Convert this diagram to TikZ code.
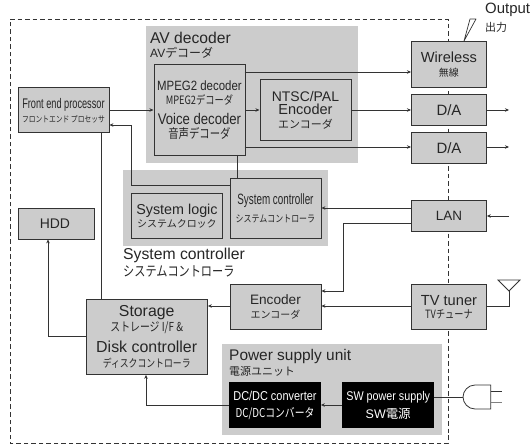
\documentclass[tikz,border=0pt]{standalone}
\usepackage{fontspec}
\usetikzlibrary{arrows.meta}
\setmainfont{Liberation Sans}
\newfontfamily\jp{Noto Sans CJK JP}
\newfontfamily\nrw[FakeStretch=0.85]{Liberation Sans}
\newfontfamily\nrwb[FakeStretch=0.66]{Liberation Sans}
\newfontfamily\jpn[FakeStretch=0.8]{Noto Sans CJK JP}
\newcommand{\sz}[1]{\fontsize{#1}{#1}\selectfont}
\definecolor{panel}{gray}{0.80}
\definecolor{boxfill}{gray}{0.80}
\definecolor{ln}{gray}{0.2}
\tikzset{
 x=1bp,y=-1bp,
 panelbox/.style={fill=panel,draw=none},
 blk/.style={draw=ln,line width=0.9pt,fill=boxfill,inner sep=0pt,text=black!85,align=center},
 blackbox/.style={fill=black,draw=none,inner sep=0pt,text=white,align=center},
 conn/.style={draw=ln,line width=0.8pt},
 arr/.style={conn,-{Stealth[length=4bp,width=3.5bp]}},
 lab/.style={inner sep=0pt,anchor=west,text=black!85,align=left},
}
\newcommand{\bx}[6]{\node[blk,minimum width=#4bp-#2bp,minimum height=#5bp-#3bp,anchor=north west] (#1) at (#2,#3) {#6};}
\begin{document}
\begin{tikzpicture}
\useasboundingbox (0,0) rectangle (531,446);
\fill[white] (0,0) rectangle (531,446);
% frame
\draw[ln,line width=0.8pt,dash pattern=on 4.5bp off 3bp] (448,435) -- (448,443) -- (10,443) -- (10,19) -- (448,19) -- (448,435);
% panels
\fill[panelbox] (146,26) rectangle (358,163);
\fill[panelbox] (123,170) rectangle (328,246);
\fill[panelbox] (222,344) rectangle (442,435);
% boxes
\bx{mpeg}{153.5}{64.5}{244.5}{155}{\nrw\sz{13.5}MPEG2 decoder\\[2pt]\jpn\sz{11.6}MPEG2デコーダ\\[7pt]\nrw\sz{15.5}Voice decoder\\[2pt]\jpn\sz{13}音声デコーダ}
\bx{ntsc}{259.5}{79.5}{350.5}{140}{\sz{14}NTSC/PAL\\[1pt]\sz{14.6}Encoder\\[2pt]\jp\sz{11}エンコーダ}
\bx{fep}{17.5}{87.5}{108.5}{132.5}{\nrwb\sz{14}Front end processor\\[2pt]\jpn\sz{8.5}フロントエンド プロセッサ}
\bx{hdd}{17.5}{208.5}{93.5}{238.5}{\sz{14}HDD\hspace*{2bp}}
\bx{slog}{131}{193}{222}{238}{\sz{14.4}System logic\\[1pt]\jp\sz{10}システムクロック}
\bx{sctl}{229.5}{178}{320.5}{238}{\nrwb\sz{15}System controller\\[6pt]\jpn\sz{10}システムコントローラ}
\bx{wl}{411}{41.5}{486}{87}{\sz{14.7}Wireless\\[2pt]\jp\sz{10}無線}
\bx{da1}{411}{94.5}{486}{125}{\sz{15}D/A}
\bx{da2}{411}{132.5}{486}{163}{\sz{15}D/A}
\bx{lan}{411}{200.5}{486}{231}{\sz{13.5}LAN}
\bx{tv}{411}{284}{486}{329}{\sz{14.7}TV tuner\\[1pt]\jpn\sz{11.5}TVチューナ}
\bx{enc}{229.5}{284}{320.5}{329}{\sz{13.7}Encoder\\[2pt]\jp\sz{10}エンコーダ}
\bx{sto}{85.5}{299}{207}{374}{\sz{15.9}Storage\\[1pt]\jpn\sz{12.4}ストレージ I/F \&\\[6pt]\sz{16}\normalfont Disk controller\\[3pt]\jpn\sz{11.1}ディスクコントローラ}
\node[blackbox,minimum width=91.5bp,minimum height=46bp,anchor=north west] (dc) at (229,382) {\nrw\sz{12.9}DC/DC converter\\[5pt]\jpn\sz{12.3}DC/DCコンバータ};
\node[blackbox,minimum width=92bp,minimum height=46bp,anchor=north west] (sw) at (342,382) {\nrw\sz{12.7}SW power supply\\[4pt]\sz{12.5}\normalfont SW\jp 電源};
% labels
\node[lab] (l1) at (150,38) {\sz{15.7}AV decoder};
\node[lab] (l2) at (150,53) {\sz{12}AV\jp デコーダ};
\node[lab] (l3) at (123,255) {\sz{15.8}System controller};
\node[lab] (l4) at (123,271) {\jpn\sz{14}システムコントローラ};
\node[lab] (l5) at (229,357) {\sz{15.5}Power supply unit};
\node[lab] (l6) at (229,371) {\jp\sz{11}電源ユニット};
\node[lab] (l7) at (485,10) {\sz{15}Output};
\node[lab] (l8) at (485,27) {\jp\sz{11}出力};
% coordinates
\coordinate (o1) at (509,110);
\coordinate (o2) at (509,147);
\coordinate (i1) at (509,216);
\coordinate (ant) at (509,291);
\coordinate (plug) at (463,397);
% connectors
\draw[arr] (244.5,72) -- (wl.west |- 0,72);
\draw[arr] (mpeg.east |- 0,110) -- (ntsc.west |- 0,110);
\draw[arr] (ntsc.east |- 0,110) -- (da1.west |- 0,110);
\draw[arr] (244.5,147) -- (da2.west |- 0,147);
\draw[arr] (fep.east |- 0,110) -- (mpeg.west |- 0,110);
\draw[arr] (sctl.west |- 0,185) -- (131,185) -- (131,125) -- (fep.east |- 0,125);
\draw[conn,line width=1pt] (237,155) -- (237,178);
\draw[conn,line width=1pt] (101,132.5) -- (101,299);
\draw[arr] (sto.west |- 0,336) -- (48,336) -- (48,0 |- hdd.south);
\draw[arr] (dc.west |- 0,405) -- (146,405) -- (146,0 |- sto.south);
\draw[arr] (enc.west |- 0,306) -- (sto.east |- 0,306);
\draw[arr] (tv.west |- 0,306) -- (enc.east |- 0,306);
\draw[arr] (lan.west |- 0,223) -- (343,223) -- (343,291) -- (enc.east |- 0,291);
\draw[arr] (lan.west |- 0,208) -- (sctl.east |- 0,208);
\draw[arr] (sw.west |- 0,405) -- (dc.east |- 0,405);
\draw[arr] (da1.east |- 0,110) -- (o1);
\draw[arr] (da2.east |- 0,147) -- (o2);
\draw[arr] (i1) -- (lan.east |- i1);
\draw[conn] (tv.east |- 0,306) -- (509,306) -- (ant);
\draw[conn,line join=miter] (ant) -- (498,280) -- (520,280) -- cycle;
\draw[conn] (sw.east |- plug) -- (plug);
% plug
\draw[conn] (490.7,385) -- (475,385) .. controls (468,385) and (463,391) .. (plug) .. controls (463,403) and (468,409) .. (475,409) -- (490.7,409) -- cycle;
\draw[draw=ln,line width=0.8pt] (490.7,391.3) -- (501.7,391.3);
\draw[draw=gray,line width=1.2pt] (490.7,402.7) -- (501.7,402.7);
% output mark
\draw[ln,line width=0.7pt,line join=round] (464,41) -- (470,19) -- (476,19) -- (464,41);
\end{tikzpicture}
\end{document}
